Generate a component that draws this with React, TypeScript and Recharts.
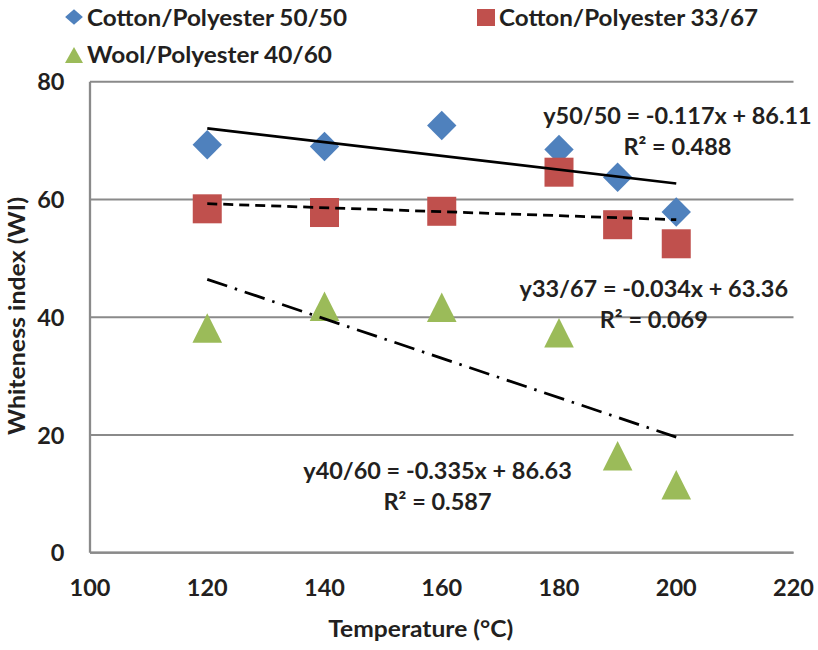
import React from 'react';
import { ScatterChart, Scatter, XAxis, YAxis, CartesianGrid, ReferenceDot } from 'recharts';

// ---- data ----
const temps = [120, 140, 160, 180, 190, 200];
const cp5050 = [69.3, 69.0, 72.56, 68.48, 63.78, 57.87];
const cp3367 = [58.41, 57.78, 57.99, 64.63, 55.71, 52.47];
const wp4060 = [38.17, 41.87, 41.7, 37.35, 16.46, 11.55];

// trend-line end points (from the fitted equations shown on the chart)
const trendX = [120, 200];
const trend5050 = [72.07, 62.71];
const trend3367 = [59.28, 56.56];
const trend4060 = [46.43, 19.63];

const xTicks = [100, 120, 140, 160, 180, 200, 220];
const yTicks = [0, 20, 40, 60, 80];

const seriesNames = ['Cotton/Polyester 50/50', 'Cotton/Polyester 33/67', 'Wool/Polyester 40/60'];
const equations = [
  { x: 200.21, y: 72.82, eq: 'y50/50 = -0.117x + 86.11', r2: 'R² = 0.488' },
  { x: 196.17, y: 43.48, eq: 'y33/67 = -0.034x + 63.36', r2: 'R² = 0.069' },
  { x: 159.28, y: 12.6, eq: 'y40/60 = -0.335x + 86.63', r2: 'R² = 0.587' },
];

const BLUE = '#4F81BD';
const RED = '#C0504D';
const GREEN = '#9BBB59';
const GRID = '#8A8A8A';
const TEXT = '#231F20';

const font: React.CSSProperties = { fontFamily: 'Lato, "Open Sans", sans-serif', fontWeight: 700, fontSize: 23.5 };

const toPts = (xs: number[], ys: number[]) => xs.map((x, i) => ({ x, y: ys[i] }));

const Diamond = (p: any) => {
  const { cx, cy } = p;
  const h = 14.7;
  return <polygon points={`${cx},${cy - h} ${cx + h},${cy} ${cx},${cy + h} ${cx - h},${cy}`} fill={BLUE} />;
};
const Square = (p: any) => {
  const { cx, cy } = p;
  const h = 14.5;
  return <rect x={cx - h} y={cy - h} width={2 * h} height={2 * h} fill={RED} />;
};
const Triangle = (p: any) => {
  const { cx, cy } = p;
  const h = 14.8;
  return <polygon points={`${cx},${cy - h} ${cx + h},${cy + h} ${cx - h},${cy + h}`} fill={GREEN} />;
};
const NoShape = () => <g />;

const XTick = (p: any) => (
  <text x={p.x} y={p.y + 43.3} textAnchor="middle" style={font} fill={TEXT}>
    {p.payload.value}
  </text>
);
const YTick = (p: any) => (
  <text x={p.x - 25.5} y={p.y + 8.7} textAnchor="end" style={font} fill={TEXT}>
    {p.payload.value}
  </text>
);

const eqLabel = (eq: string, r2: string) => (props: any) => {
  const vb = props.viewBox || {};
  const cx = (vb.x ?? 0) + (vb.width ?? 0) / 2;
  const cy = (vb.y ?? 0) + (vb.height ?? 0) / 2;
  return (
    <g>
      <text x={cx} y={cy} textAnchor="middle" style={font} fill={TEXT} textLength={268.5} lengthAdjust="spacingAndGlyphs">
        {eq}
      </text>
      <text x={cx} y={cy + 31.5} textAnchor="middle" style={font} fill={TEXT} textLength={108} lengthAdjust="spacingAndGlyphs">
        {r2}
      </text>
    </g>
  );
};

export default function App() {
  return (
    <div style={{ position: 'absolute', left: 0, top: 0, width: 818, height: 650, background: '#fff' }}>
      <ScatterChart width={818} height={650} margin={{ top: 81.7, right: 24.5, bottom: 37.3, left: 30 }}>
        <CartesianGrid vertical={false} stroke={GRID} strokeWidth={2} />
        <XAxis
          type="number"
          dataKey="x"
          domain={[100, 220]}
          ticks={xTicks}
          interval={0}
          height={60}
          axisLine={{ stroke: GRID, strokeWidth: 2.3 }}
          tickLine={false}
          tickSize={0}
          tickMargin={0}
          tick={<XTick />}
          allowDataOverflow
        />
        <YAxis
          type="number"
          dataKey="y"
          domain={[0, 80]}
          ticks={yTicks}
          interval={0}
          width={60}
          axisLine={{ stroke: GRID, strokeWidth: 2.3 }}
          tickLine={false}
          tickSize={0}
          tickMargin={0}
          tick={<YTick />}
          allowDataOverflow
        />
        <Scatter name={seriesNames[0]} data={toPts(temps, cp5050)} shape={<Diamond />} isAnimationActive={false} />
        <Scatter name={seriesNames[1]} data={toPts(temps, cp3367)} shape={<Square />} isAnimationActive={false} />
        <Scatter name={seriesNames[2]} data={toPts(temps, wp4060)} shape={<Triangle />} isAnimationActive={false} />
        <Scatter
          data={toPts(trendX, trend5050)}
          line={{ stroke: '#000', strokeWidth: 2.75 }}
          shape={<NoShape />}
          legendType="none"
          isAnimationActive={false}
        />
        <Scatter
          data={toPts(trendX, trend3367)}
          line={{ stroke: '#000', strokeWidth: 2.75, strokeDasharray: '10 6' }}
          shape={<NoShape />}
          legendType="none"
          isAnimationActive={false}
        />
        <Scatter
          data={toPts(trendX, trend4060)}
          line={{ stroke: '#000', strokeWidth: 2.75, strokeDasharray: '21 8 2.5 8' }}
          shape={<NoShape />}
          legendType="none"
          isAnimationActive={false}
        />
        {equations.map((e, i) => (
          <ReferenceDot
            key={i}
            x={e.x}
            y={e.y}
            r={0}
            fill="none"
            stroke="none"
            ifOverflow="visible"
            label={eqLabel(e.eq, e.r2)}
          />
        ))}
      </ScatterChart>
      <svg width={818} height={650} style={{ position: 'absolute', left: 0, top: 0, pointerEvents: 'none' }}>
        {/* legend */}
        <polygon points="74,9.2 82.9,17 74,24.8 65.1,17" fill={BLUE} />
        <text x={87} y={26} style={font} fill={TEXT} textLength={260} lengthAdjust="spacingAndGlyphs">
          {seriesNames[0]}
        </text>
        <rect x={477} y={9} width={18} height={17} fill={RED} />
        <text x={499} y={26} style={font} fill={TEXT} textLength={259} lengthAdjust="spacingAndGlyphs">
          {seriesNames[1]}
        </text>
        <polygon points="74,47 83,63 65,63" fill={GREEN} />
        <text x={87} y={62.7} style={font} fill={TEXT} textLength={245} lengthAdjust="spacingAndGlyphs">
          {seriesNames[2]}
        </text>
        {/* axis titles */}
        <text x={420.8} y={637} textAnchor="middle" style={font} fill={TEXT} textLength={185} lengthAdjust="spacingAndGlyphs">
          Temperature (°C)
        </text>
        <text
          x={25}
          y={316}
          transform="rotate(-90 25 316)"
          textAnchor="middle"
          style={font}
          fill={TEXT}
          textLength={238}
          lengthAdjust="spacingAndGlyphs"
        >
          Whiteness index (WI)
        </text>
      </svg>
    </div>
  );
}
